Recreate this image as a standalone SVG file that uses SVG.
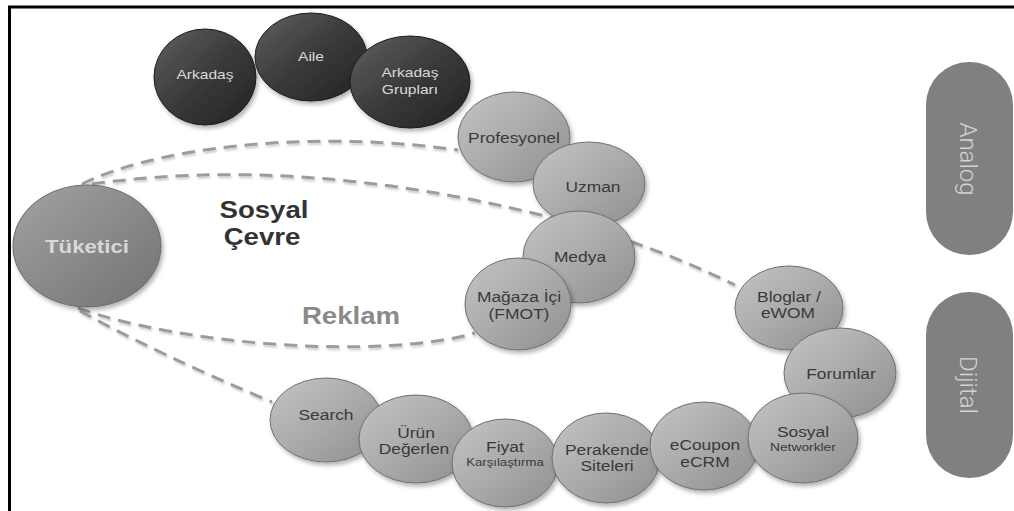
<svg xmlns="http://www.w3.org/2000/svg" width="1014" height="511" viewBox="0 0 1014 511">
<style>
  text { font-family: "Liberation Sans", Arial, sans-serif; text-anchor: middle; }
  .s { transform-box: fill-box; transform-origin: center; transform: scaleX(1.2); }
  .lt { font-size: 14.5px; fill: #3a3a3a; }
  .sm { font-size: 11px; fill: #3a3a3a; }
  .dt { font-size: 13px; fill: #dadada; }
  .gn { fill: url(#gLight); stroke: #707070; stroke-width: 1; filter: url(#sh); }
  .dn { fill: url(#gDark); stroke: #1e1e1e; stroke-width: 1; filter: url(#sh); }
  .cn { fill: none; stroke: #9c9c9c; stroke-width: 3; stroke-dasharray: 13 8; filter: url(#lsh); }
  .pill { fill: #808080; }
  .pt { font-family: Roboto, "Liberation Sans", sans-serif; font-weight: 300; font-size: 24px; fill: #d2d2d2; }
</style>
<defs>
  <linearGradient id="gLight" x1="0" y1="0" x2="1" y2="1">
    <stop offset="0" stop-color="#c4c4c4"/>
    <stop offset="0.55" stop-color="#a8a8a8"/>
    <stop offset="1" stop-color="#8e8e8e"/>
  </linearGradient>
  <linearGradient id="gDark" x1="0" y1="0" x2="1" y2="1">
    <stop offset="0" stop-color="#606060"/>
    <stop offset="0.5" stop-color="#3a3a3a"/>
    <stop offset="1" stop-color="#222222"/>
  </linearGradient>
  <linearGradient id="gMid" x1="0" y1="0" x2="1" y2="1">
    <stop offset="0" stop-color="#a2a2a2"/>
    <stop offset="0.5" stop-color="#8a8a8a"/>
    <stop offset="1" stop-color="#727272"/>
  </linearGradient>
  <filter id="sh" x="-20%" y="-20%" width="140%" height="150%">
    <feDropShadow dx="2" dy="3" stdDeviation="2" flood-color="#000" flood-opacity="0.3"/>
  </filter>
  <filter id="lsh" x="-10%" y="-20%" width="120%" height="140%">
    <feDropShadow dx="1" dy="2" stdDeviation="1.2" flood-color="#000" flood-opacity="0.2"/>
  </filter>
</defs>
<rect width="1014" height="511" fill="#ffffff"/>
<path d="M9.5,511 V7 H1014" fill="none" stroke="#000" stroke-width="3"/>

<g id="connectors">
  <path class="cn" d="M82,184 C150,150 300,128 458,150"/>
  <path class="cn" d="M92,184 Q300,155 545,216 Q645,241 735,285"/>
  <path class="cn" d="M78,308 C180,345 380,360 475,333"/>
  <path class="cn" d="M80,311 Q160,355 272,402"/>
</g>

<g id="labels">
  <text class="s" x="264" y="218" style="font-size:23px;font-weight:bold;fill:#333">Sosyal</text>
  <text class="s" x="262" y="245" style="font-size:23px;font-weight:bold;fill:#333">Çevre</text>
  <text class="s" x="351" y="324" style="font-size:23px;font-weight:bold;fill:#8a8a8a">Reklam</text>
</g>

<g id="n-tuketici">
  <ellipse cx="87" cy="246" rx="74" ry="61" fill="url(#gMid)" stroke="#6a6a6a" stroke-width="1" filter="url(#sh)"/>
  <text class="s" x="87" y="253" style="font-size:18.5px;font-weight:bold;fill:#d8d8d8">Tüketici</text>
</g>

<g id="n-arkadas">
  <ellipse class="dn" cx="205" cy="77" rx="51" ry="48"/>
  <text class="s dt" x="205" y="79">Arkadaş</text>
</g>
<g id="n-aile">
  <ellipse class="dn" cx="311" cy="57" rx="56" ry="44"/>
  <text class="s dt" x="311" y="61">Aile</text>
</g>
<g id="n-gruplari">
  <ellipse class="dn" cx="410" cy="82" rx="60" ry="46"/>
  <text class="s dt" x="410" y="77">Arkadaş</text>
  <text class="s dt" x="410" y="94">Grupları</text>
</g>

<g id="n-profesyonel">
  <ellipse class="gn" cx="514" cy="137" rx="56" ry="45"/>
  <text class="s lt" x="514" y="143">Profesyonel</text>
</g>
<g id="n-uzman">
  <ellipse class="gn" cx="589" cy="184" rx="56" ry="42"/>
  <text class="s lt" x="593" y="192">Uzman</text>
</g>
<g id="n-medya">
  <ellipse class="gn" cx="579" cy="257" rx="56" ry="46"/>
  <text class="s lt" x="580" y="262">Medya</text>
</g>
<g id="n-magaza">
  <ellipse class="gn" cx="518" cy="304" rx="53" ry="46"/>
  <text class="s lt" x="519" y="302">Mağaza İçi</text>
  <text class="s lt" x="519" y="319">(FMOT)</text>
</g>

<g id="n-search">
  <ellipse class="gn" cx="326" cy="420" rx="56" ry="42"/>
  <text class="s lt" x="326" y="420">Search</text>
</g>
<g id="n-urun">
  <ellipse class="gn" cx="416" cy="439" rx="57" ry="44"/>
  <text class="s lt" x="416" y="438">Ürün</text>
  <text class="s lt" x="414" y="454">Değerlen</text>
</g>
<g id="n-fiyat">
  <ellipse class="gn" cx="505" cy="463" rx="53" ry="44"/>
  <text class="s lt" x="505" y="452">Fiyat</text>
  <text class="s sm" x="505" y="466">Karşılaştırma</text>
</g>
<g id="n-perakende">
  <ellipse class="gn" cx="606" cy="458" rx="54" ry="45"/>
  <text class="s lt" x="607" y="455">Perakende</text>
  <text class="s lt" x="607" y="471">Siteleri</text>
</g>
<g id="n-ecoupon">
  <ellipse class="gn" cx="704" cy="446" rx="54" ry="44"/>
  <text class="s lt" x="705" y="450">eCoupon</text>
  <text class="s lt" x="705" y="467">eCRM</text>
</g>

<g id="n-bloglar">
  <ellipse class="gn" cx="789" cy="308" rx="54" ry="42"/>
  <text class="s lt" x="789" y="302">Bloglar /</text>
  <text class="s lt" x="788" y="318">eWOM</text>
</g>
<g id="n-forumlar">
  <ellipse class="gn" cx="840" cy="373" rx="56" ry="45"/>
  <text class="s lt" x="841" y="379">Forumlar</text>
</g>
<g id="n-sosyal">
  <ellipse class="gn" cx="803" cy="438" rx="55" ry="45"/>
  <text class="s lt" x="803" y="437">Sosyal</text>
  <text class="s sm" x="803" y="451" style="font-size:11.5px">Networkler</text>
</g>

<g id="n-analog">
  <rect class="pill" x="926" y="62" width="87" height="193" rx="43" ry="43"/>
  <text class="pt" transform="translate(960,159) rotate(90)" x="0" y="0">Analog</text>
</g>
<g id="n-dijital">
  <rect class="pill" x="926" y="292" width="87" height="186" rx="43" ry="43"/>
  <text class="pt" transform="translate(960,385) rotate(90)" x="0" y="0">Dijital</text>
</g>
</svg>
